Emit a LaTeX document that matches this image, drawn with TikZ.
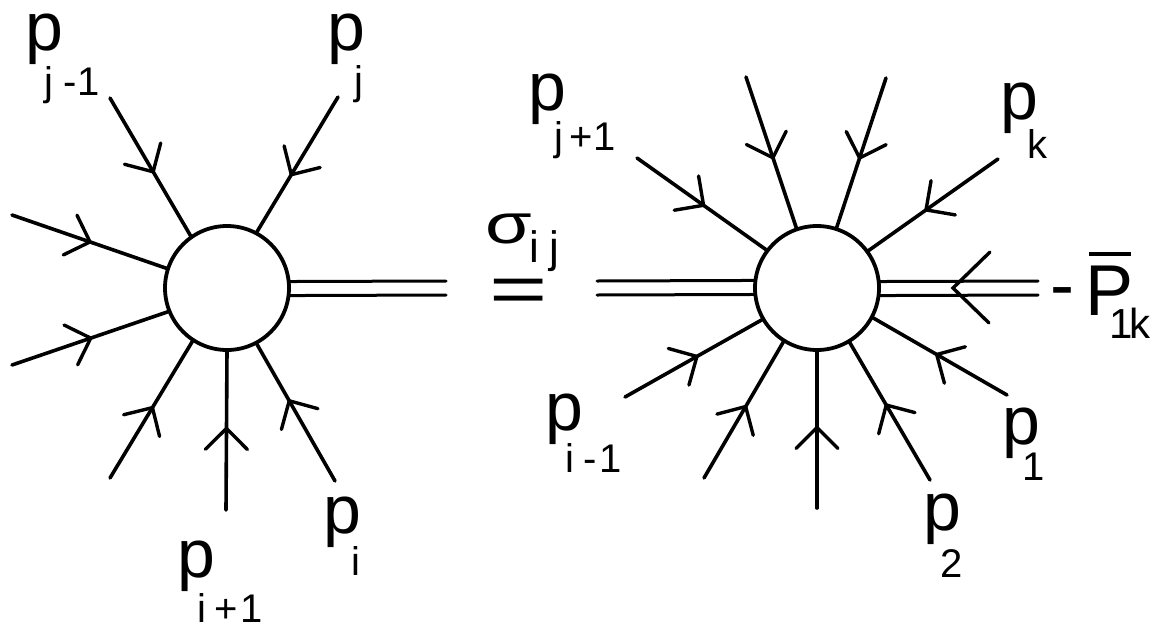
\documentclass[tikz,border=0pt]{standalone}
\usepackage{fontspec}
\setmainfont{Liberation Sans}
\usepackage{graphicx}
\usetikzlibrary{decorations.markings}
\newcommand{\bigp}{\fontsize{68}{68}\selectfont}
\newcommand{\subf}{\fontsize{40}{40}\selectfont}
% \plab{kern}{drop}{subscript}
\newcommand{\plab}[3]{{\bigp p}\kern#1pt\raisebox{-#2pt}{\subf #3}}
\begin{document}
\begin{tikzpicture}[x=1pt,y=-1pt,line width=3.6pt,line cap=round,
  blob/.style={circle,draw,line width=3.8pt,minimum size=124pt,inner sep=0pt,outer sep=0pt},
  dbl/.style={line width=3pt},
  inarrow/.style={postaction={decorate},decoration={markings,mark=at position #1 with {\draw[line width=3.4pt,line cap=round,line join=miter] (-21pt,21pt) -- (0pt,0pt) -- (-21pt,-21pt);}}},
  lab/.style={anchor=base west,inner sep=0pt,outer sep=0pt}]
\useasboundingbox (0,0) rectangle (1154,627);
% blobs
\node[blob] (L) at (227,288) {};
\node[blob] (R) at (817,288) {};
% left legs
\coordinate (la1) at (110,98);
\coordinate (la2) at (338,97);
\coordinate (la3) at (12,215);
\coordinate (la4) at (12,365);
\coordinate (la5) at (110,478);
\coordinate (la6) at (226,510);
\coordinate (la7) at (335,481);
\coordinate (ld1) at (446,281);
\coordinate (ld2) at (446,295);
\draw[inarrow=0.53] (la1) -- (L.125);
\draw[inarrow=0.57] (la2) -- (L.62);
\draw[inarrow=0.5] (la3) -- (L.162);
\draw[inarrow=0.5] (la4) -- (L.202);
\draw[inarrow=0.51] (la5) -- (L.237.5);
\draw[inarrow=0.51] (la6) -- (L.270);
\draw[inarrow=0.58] (la7) -- (L.298);
\draw[dbl] (L.6.5) -- (ld1);
\draw[dbl] (L.353.5) -- (ld2);
% right legs
\coordinate (ra1) at (637,158);
\coordinate (ra2) at (746,77);
\coordinate (ra3) at (886,78);
\coordinate (ra4) at (998,159);
\coordinate (ra6) at (1007,395);
\coordinate (ra7) at (930,480);
\coordinate (ra8) at (817,508);
\coordinate (ra9) at (704,478);
\coordinate (ra10) at (625,397);
\coordinate (rdl1) at (597,281);
\coordinate (rdl2) at (597,295);
\coordinate (rdr1) at (1038,281);
\coordinate (rdr2) at (1038,295);
\coordinate (rtip) at (953,288);
\draw[inarrow=0.51] (ra1) -- (R.143);
\draw[inarrow=0.53] (ra2) -- (R.109);
\draw[inarrow=0.53] (ra3) -- (R.72);
\draw[inarrow=0.55] (ra4) -- (R.36);
\draw[inarrow=0.52] (ra6) -- (R.332.5);
\draw[inarrow=0.54] (ra7) -- (R.301.5);
\draw[inarrow=0.51] (ra8) -- (R.270);
\draw[inarrow=0.52] (ra9) -- (R.238);
\draw[inarrow=0.52] (ra10) -- (R.210);
\draw[dbl] (rdl1) -- (R.173.5);
\draw[dbl] (rdl2) -- (R.186.5);
\draw[dbl] (R.6.5) -- (rdr1);
\draw[dbl] (R.353.5) -- (rdr2);
\draw[line width=3.4pt,line join=miter] (rtip) ++(37,-36) -- (rtip) -- ++(36,35);
% middle
\node[lab] (sig) at (485,243) {\scalebox{1.35}[1]{\fontsize{56}{56}\selectfont σ}\kern-2pt\raisebox{-19pt}{\fontsize{44}{44}\selectfont i\kern10pt j}};
\node[inner sep=0pt,outer sep=0pt,anchor=base] (eq) at (519,312) {\scalebox{1.47}[1]{\fontsize{68}{68}\selectfont =}};
% labels left
\node[lab] (pj1) at (25.5,50) {\plab{-18.5}{45}{j\kern10pt-1}};
\node[lab] (pj) at (327.5,50) {\plab{-11}{44}{j}};
\node[lab] (pi) at (323.5,533) {\plab{-9.5}{42}{i}};
\node[lab] (pi1) at (177.5,577) {\plab{-17.5}{45}{i\kern7.5pt+\kern3pt 1}};
% labels right
\node[lab] (pjp) at (528.5,110) {\plab{-12}{40}{j\kern6pt+\kern1pt 1}};
\node[lab] (pk) at (1000.5,119) {\plab{-10.5}{39}{k}};
\node[lab] (pim) at (545.5,430) {\plab{-17.5}{42}{i\kern8.7pt-\kern2.6pt 1}};
\node[lab] (p1) at (1002.5,444) {\plab{-18}{36}{1}};
\node[lab] (p2) at (923.5,530) {\plab{-20.5}{47}{2}};
\node[lab] (P1k) at (1050,315) {{\fontsize{72}{72}\selectfont \raisebox{6pt}{-}\kern12pt\makebox[0pt][l]{\kern3pt\rule[59pt]{42pt}{4pt}}P}\kern-25pt\raisebox{-23pt}{\fontsize{42}{42}\selectfont 1\kern-3pt k}};
\end{tikzpicture}
\end{document}
